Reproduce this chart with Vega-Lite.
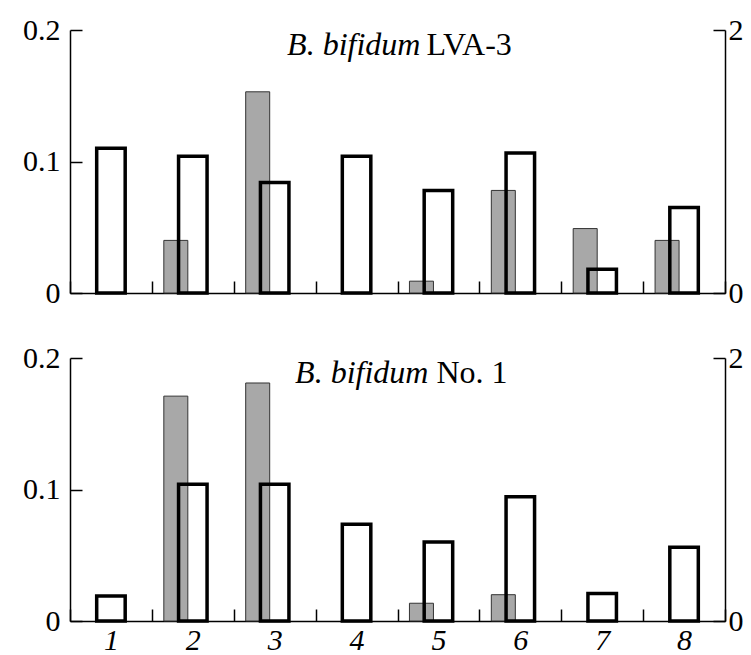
{
  "$schema": "https://vega.github.io/schema/vega-lite/v6.json",
  "background": "white",
  "padding": {"left": 22, "top": 15, "right": 0, "bottom": 0},
  "config": {
    "view": {"stroke": null},
    "font": "Liberation Serif",
    "axis": {"grid": false, "title": null, "domainColor": "black", "domainWidth": 1.5, "tickColor": "black", "tickWidth": 1.5, "labelColor": "black", "labelFont": "Liberation Serif", "labelFontSize": 30}
  },
  "datasets": {
    "lva": [
      {"cat": "1", "gray": null, "white": 1.10},
      {"cat": "2", "gray": 0.040, "white": 1.04},
      {"cat": "3", "gray": 0.153, "white": 0.84},
      {"cat": "4", "gray": null, "white": 1.04},
      {"cat": "5", "gray": 0.009, "white": 0.78},
      {"cat": "6", "gray": 0.078, "white": 1.065},
      {"cat": "7", "gray": 0.049, "white": 0.18},
      {"cat": "8", "gray": 0.040, "white": 0.65}
    ],
    "no1": [
      {"cat": "1", "gray": null, "white": 0.19},
      {"cat": "2", "gray": 0.171, "white": 1.04},
      {"cat": "3", "gray": 0.181, "white": 1.04},
      {"cat": "4", "gray": null, "white": 0.735},
      {"cat": "5", "gray": 0.0135, "white": 0.60},
      {"cat": "6", "gray": 0.020, "white": 0.945},
      {"cat": "7", "gray": null, "white": 0.21},
      {"cat": "8", "gray": null, "white": 0.56}
    ],
    "t_lva": [{"strain": "B. bifidum", "tag": "LVA-3", "cat": "5", "y": 0.181}],
    "t_no1": [{"strain": "B. bifidum", "tag": "No. 1", "cat": "5", "y": 0.181}]
  },
  "bounds": "flush",
  "spacing": 65,
  "vconcat": [
    {
      "width": 655,
      "height": 263,
      "layer": [
        {
          "data": {"name": "lva"},
          "mark": {"type": "bar", "width": 24, "xOffset": -17, "fill": "#a8a8a8", "stroke": "#333333", "strokeWidth": 1},
          "encoding": {
            "x": {"field": "cat", "type": "ordinal", "scale": {"paddingInner": 0, "paddingOuter": 0}, "axis": {"labels": false, "tickBand": "extent", "tickSize": -12, "domain": true}},
            "y": {"field": "gray", "type": "quantitative", "scale": {"domain": [0, 0.2]}, "axis": {"orient": "left", "values": [0, 0.1, 0.2], "format": ".1~f", "tickSize": -12, "labelPadding": 22}}
          }
        },
        {
          "data": {"name": "lva"},
          "mark": {"type": "bar", "width": 28.5, "filled": false, "stroke": "black", "strokeWidth": 3.5},
          "encoding": {
            "x": {"field": "cat", "type": "ordinal"},
            "y": {"field": "white", "type": "quantitative", "scale": {"domain": [0, 2]}, "axis": {"orient": "right", "values": [0, 1, 2], "format": "d", "tickSize": -12, "labelPadding": 15}}
          }
        },
        {
          "data": {"name": "t_lva"},
          "mark": {"type": "text", "align": "right", "baseline": "alphabetic", "fontStyle": "italic", "fontSize": 32, "dx": -18, "color": "black"},
          "encoding": {
            "x": {"field": "cat", "type": "ordinal"},
            "y": {"field": "y", "type": "quantitative", "scale": {"domain": [0, 0.2]}, "axis": null},
            "text": {"field": "strain"}
          }
        },
        {
          "data": {"name": "t_lva"},
          "mark": {"type": "text", "align": "left", "baseline": "alphabetic", "fontSize": 32, "dx": -12, "color": "black"},
          "encoding": {
            "x": {"field": "cat", "type": "ordinal"},
            "y": {"field": "y", "type": "quantitative", "scale": {"domain": [0, 0.2]}, "axis": null},
            "text": {"field": "tag"}
          }
        }
      ],
      "resolve": {"scale": {"y": "independent"}}
    },
    {
      "width": 655,
      "height": 263,
      "layer": [
        {
          "data": {"name": "no1"},
          "mark": {"type": "bar", "width": 24, "xOffset": -17, "fill": "#a8a8a8", "stroke": "#333333", "strokeWidth": 1},
          "encoding": {
            "x": {"field": "cat", "type": "ordinal", "scale": {"paddingInner": 0, "paddingOuter": 0}, "axis": {"labels": true, "labelAngle": 0, "labelFontStyle": "italic", "tickBand": "extent", "tickSize": -12, "labelPadding": 16, "domain": true}},
            "y": {"field": "gray", "type": "quantitative", "scale": {"domain": [0, 0.2]}, "axis": {"orient": "left", "values": [0, 0.1, 0.2], "format": ".1~f", "tickSize": -12, "labelPadding": 22}}
          }
        },
        {
          "data": {"name": "no1"},
          "mark": {"type": "bar", "width": 28.5, "filled": false, "stroke": "black", "strokeWidth": 3.5},
          "encoding": {
            "x": {"field": "cat", "type": "ordinal"},
            "y": {"field": "white", "type": "quantitative", "scale": {"domain": [0, 2]}, "axis": {"orient": "right", "values": [0, 1, 2], "format": "d", "tickSize": -12, "labelPadding": 15}}
          }
        },
        {
          "data": {"name": "t_no1"},
          "mark": {"type": "text", "align": "right", "baseline": "alphabetic", "fontStyle": "italic", "fontSize": 32, "dx": -10, "color": "black"},
          "encoding": {
            "x": {"field": "cat", "type": "ordinal"},
            "y": {"field": "y", "type": "quantitative", "scale": {"domain": [0, 0.2]}, "axis": null},
            "text": {"field": "strain"}
          }
        },
        {
          "data": {"name": "t_no1"},
          "mark": {"type": "text", "align": "left", "baseline": "alphabetic", "fontSize": 32, "dx": -2, "color": "black"},
          "encoding": {
            "x": {"field": "cat", "type": "ordinal"},
            "y": {"field": "y", "type": "quantitative", "scale": {"domain": [0, 0.2]}, "axis": null},
            "text": {"field": "tag"}
          }
        }
      ],
      "resolve": {"scale": {"y": "independent"}}
    }
  ]
}
